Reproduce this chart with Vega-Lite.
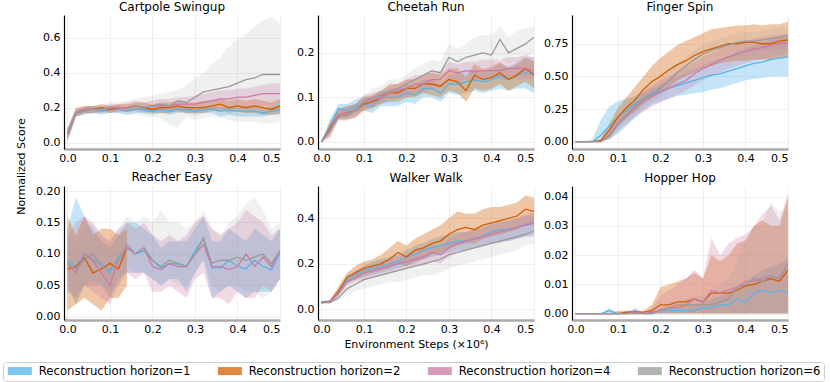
{
"$schema":"https://vega.github.io/schema/vega-lite/v6.json",
"padding":{"left":2,"top":1,"right":0,"bottom":2},
"columns":3,
"spacing":{"row":37,"column":38},
"bounds":"flush",
"resolve":{"scale":{"x":"independent","y":"independent"}},
"config":{
 "font":"DejaVu Sans",
 "view":{"stroke":null},
 "axis":{"labelFont":"DejaVu Sans","labelFontSize":11,"labelColor":"#000","labelOverlap":false,"ticks":false,"grid":true,"gridColor":"#eeeeee","gridWidth":1,"titleFont":"DejaVu Sans","titleFontSize":11,"titleFontWeight":"normal","titleColor":"#000","tickCount":10},
 "axisX":{"domainColor":"#aaaaaa","domainWidth":2.5,"labelPadding":3},
 "axisY":{"domainColor":"#000000","domainWidth":1.2,"labelPadding":4},
 "title":{"font":"DejaVu Sans","fontSize":12,"fontWeight":"normal","color":"#000","offset":1},
 "legend":{"orient":"none","legendX":-61,"legendY":347,"direction":"horizontal","columns":4,"columnPadding":25,"padding":3,"strokeColor":"#cccccc","cornerRadius":3,"symbolType":"M-2.4,-0.8H2.4V0.8H-2.4Z","symbolSize":100,"symbolOffset":8,"symbolStrokeWidth":0,"labelFont":"DejaVu Sans","labelFontSize":11.7,"labelColor":"#000","labelOffset":13}
},
"datasets":{
"cp":[
{"h":1,"x":0,"m":0.05,"l":0.01,"u":0.08},{"h":1,"x":0.02,"m":0.17,"l":0.15,"u":0.19},{"h":1,"x":0.04,"m":0.18,"l":0.16,"u":0.2},{"h":1,"x":0.06,"m":0.19,"l":0.17,"u":0.21},{"h":1,"x":0.08,"m":0.18,"l":0.16,"u":0.2},{"h":1,"x":0.1,"m":0.19,"l":0.17,"u":0.21},{"h":1,"x":0.12,"m":0.19,"l":0.17,"u":0.21},{"h":1,"x":0.14,"m":0.18,"l":0.16,"u":0.2},{"h":1,"x":0.16,"m":0.19,"l":0.17,"u":0.21},{"h":1,"x":0.18,"m":0.19,"l":0.17,"u":0.21},{"h":1,"x":0.2,"m":0.18,"l":0.16,"u":0.2},{"h":1,"x":0.22,"m":0.19,"l":0.17,"u":0.21},{"h":1,"x":0.24,"m":0.18,"l":0.16,"u":0.2},{"h":1,"x":0.26,"m":0.19,"l":0.17,"u":0.21},{"h":1,"x":0.28,"m":0.19,"l":0.17,"u":0.21},{"h":1,"x":0.3,"m":0.18,"l":0.16,"u":0.2},{"h":1,"x":0.32,"m":0.19,"l":0.17,"u":0.21},{"h":1,"x":0.34,"m":0.19,"l":0.17,"u":0.21},{"h":1,"x":0.36,"m":0.18,"l":0.15,"u":0.2},{"h":1,"x":0.38,"m":0.19,"l":0.16,"u":0.21},{"h":1,"x":0.4,"m":0.18,"l":0.15,"u":0.2},{"h":1,"x":0.42,"m":0.18,"l":0.15,"u":0.21},{"h":1,"x":0.44,"m":0.18,"l":0.15,"u":0.21},{"h":1,"x":0.46,"m":0.17,"l":0.15,"u":0.2},{"h":1,"x":0.48,"m":0.18,"l":0.16,"u":0.21},{"h":1,"x":0.5,"m":0.19,"l":0.16,"u":0.22},
{"h":2,"x":0,"m":0.05,"l":0.01,"u":0.08},{"h":2,"x":0.02,"m":0.17,"l":0.15,"u":0.2},{"h":2,"x":0.04,"m":0.19,"l":0.17,"u":0.21},{"h":2,"x":0.06,"m":0.19,"l":0.17,"u":0.21},{"h":2,"x":0.08,"m":0.2,"l":0.18,"u":0.22},{"h":2,"x":0.1,"m":0.19,"l":0.17,"u":0.21},{"h":2,"x":0.12,"m":0.2,"l":0.18,"u":0.22},{"h":2,"x":0.14,"m":0.2,"l":0.18,"u":0.22},{"h":2,"x":0.16,"m":0.21,"l":0.19,"u":0.23},{"h":2,"x":0.18,"m":0.2,"l":0.18,"u":0.23},{"h":2,"x":0.2,"m":0.19,"l":0.17,"u":0.22},{"h":2,"x":0.22,"m":0.2,"l":0.17,"u":0.23},{"h":2,"x":0.24,"m":0.2,"l":0.17,"u":0.23},{"h":2,"x":0.26,"m":0.21,"l":0.18,"u":0.24},{"h":2,"x":0.28,"m":0.2,"l":0.17,"u":0.23},{"h":2,"x":0.3,"m":0.2,"l":0.17,"u":0.23},{"h":2,"x":0.32,"m":0.2,"l":0.17,"u":0.24},{"h":2,"x":0.34,"m":0.21,"l":0.18,"u":0.24},{"h":2,"x":0.36,"m":0.22,"l":0.19,"u":0.25},{"h":2,"x":0.38,"m":0.2,"l":0.17,"u":0.24},{"h":2,"x":0.4,"m":0.21,"l":0.18,"u":0.25},{"h":2,"x":0.42,"m":0.2,"l":0.17,"u":0.24},{"h":2,"x":0.44,"m":0.21,"l":0.17,"u":0.25},{"h":2,"x":0.46,"m":0.2,"l":0.16,"u":0.24},{"h":2,"x":0.48,"m":0.19,"l":0.16,"u":0.23},{"h":2,"x":0.5,"m":0.21,"l":0.17,"u":0.25},
{"h":4,"x":0,"m":0.05,"l":0.01,"u":0.08},{"h":4,"x":0.02,"m":0.17,"l":0.15,"u":0.19},{"h":4,"x":0.04,"m":0.19,"l":0.17,"u":0.21},{"h":4,"x":0.06,"m":0.19,"l":0.17,"u":0.21},{"h":4,"x":0.08,"m":0.19,"l":0.17,"u":0.21},{"h":4,"x":0.1,"m":0.2,"l":0.18,"u":0.22},{"h":4,"x":0.12,"m":0.2,"l":0.18,"u":0.22},{"h":4,"x":0.14,"m":0.2,"l":0.18,"u":0.23},{"h":4,"x":0.16,"m":0.21,"l":0.18,"u":0.24},{"h":4,"x":0.18,"m":0.2,"l":0.17,"u":0.23},{"h":4,"x":0.2,"m":0.21,"l":0.18,"u":0.24},{"h":4,"x":0.22,"m":0.21,"l":0.18,"u":0.25},{"h":4,"x":0.24,"m":0.21,"l":0.18,"u":0.25},{"h":4,"x":0.26,"m":0.22,"l":0.18,"u":0.26},{"h":4,"x":0.28,"m":0.22,"l":0.18,"u":0.26},{"h":4,"x":0.3,"m":0.22,"l":0.19,"u":0.27},{"h":4,"x":0.32,"m":0.23,"l":0.19,"u":0.28},{"h":4,"x":0.34,"m":0.24,"l":0.19,"u":0.29},{"h":4,"x":0.36,"m":0.25,"l":0.19,"u":0.3},{"h":4,"x":0.38,"m":0.25,"l":0.2,"u":0.3},{"h":4,"x":0.4,"m":0.26,"l":0.2,"u":0.31},{"h":4,"x":0.42,"m":0.26,"l":0.2,"u":0.31},{"h":4,"x":0.44,"m":0.27,"l":0.2,"u":0.32},{"h":4,"x":0.46,"m":0.28,"l":0.21,"u":0.33},{"h":4,"x":0.48,"m":0.28,"l":0.21,"u":0.34},{"h":4,"x":0.5,"m":0.28,"l":0.22,"u":0.34},
{"h":6,"x":0,"m":0.05,"l":0.01,"u":0.08},{"h":6,"x":0.02,"m":0.17,"l":0.15,"u":0.19},{"h":6,"x":0.04,"m":0.18,"l":0.16,"u":0.2},{"h":6,"x":0.06,"m":0.19,"l":0.17,"u":0.21},{"h":6,"x":0.08,"m":0.19,"l":0.17,"u":0.22},{"h":6,"x":0.1,"m":0.2,"l":0.17,"u":0.23},{"h":6,"x":0.12,"m":0.2,"l":0.17,"u":0.23},{"h":6,"x":0.14,"m":0.2,"l":0.16,"u":0.24},{"h":6,"x":0.16,"m":0.21,"l":0.16,"u":0.25},{"h":6,"x":0.18,"m":0.2,"l":0.15,"u":0.26},{"h":6,"x":0.2,"m":0.21,"l":0.15,"u":0.27},{"h":6,"x":0.22,"m":0.22,"l":0.14,"u":0.28},{"h":6,"x":0.24,"m":0.21,"l":0.1,"u":0.29},{"h":6,"x":0.26,"m":0.24,"l":0.09,"u":0.3},{"h":6,"x":0.28,"m":0.23,"l":0.15,"u":0.33},{"h":6,"x":0.3,"m":0.26,"l":0.13,"u":0.37},{"h":6,"x":0.32,"m":0.29,"l":0.14,"u":0.4},{"h":6,"x":0.34,"m":0.3,"l":0.15,"u":0.45},{"h":6,"x":0.36,"m":0.31,"l":0.14,"u":0.49},{"h":6,"x":0.38,"m":0.32,"l":0.13,"u":0.55},{"h":6,"x":0.4,"m":0.34,"l":0.12,"u":0.59},{"h":6,"x":0.42,"m":0.36,"l":0.12,"u":0.62},{"h":6,"x":0.44,"m":0.37,"l":0.12,"u":0.66},{"h":6,"x":0.46,"m":0.39,"l":0.11,"u":0.7},{"h":6,"x":0.48,"m":0.39,"l":0.11,"u":0.72},{"h":6,"x":0.5,"m":0.39,"l":0.12,"u":0.68}
],
"ch":[
{"h":1,"x":0,"m":0,"l":0,"u":0},{"h":1,"x":0.02,"m":0.035,"l":0.02,"u":0.05},{"h":1,"x":0.04,"m":0.075,"l":0.06,"u":0.085},{"h":1,"x":0.06,"m":0.07,"l":0.055,"u":0.085},{"h":1,"x":0.08,"m":0.08,"l":0.065,"u":0.095},{"h":1,"x":0.1,"m":0.085,"l":0.07,"u":0.1},{"h":1,"x":0.12,"m":0.08,"l":0.065,"u":0.1},{"h":1,"x":0.14,"m":0.1,"l":0.08,"u":0.115},{"h":1,"x":0.16,"m":0.1,"l":0.08,"u":0.115},{"h":1,"x":0.18,"m":0.1,"l":0.08,"u":0.12},{"h":1,"x":0.2,"m":0.11,"l":0.09,"u":0.13},{"h":1,"x":0.22,"m":0.105,"l":0.085,"u":0.125},{"h":1,"x":0.24,"m":0.12,"l":0.1,"u":0.14},{"h":1,"x":0.26,"m":0.12,"l":0.1,"u":0.14},{"h":1,"x":0.28,"m":0.11,"l":0.09,"u":0.13},{"h":1,"x":0.3,"m":0.13,"l":0.11,"u":0.15},{"h":1,"x":0.32,"m":0.13,"l":0.105,"u":0.155},{"h":1,"x":0.34,"m":0.135,"l":0.11,"u":0.16},{"h":1,"x":0.36,"m":0.14,"l":0.115,"u":0.165},{"h":1,"x":0.38,"m":0.135,"l":0.11,"u":0.16},{"h":1,"x":0.4,"m":0.14,"l":0.115,"u":0.165},{"h":1,"x":0.42,"m":0.15,"l":0.12,"u":0.175},{"h":1,"x":0.44,"m":0.14,"l":0.115,"u":0.17},{"h":1,"x":0.46,"m":0.15,"l":0.12,"u":0.18},{"h":1,"x":0.48,"m":0.155,"l":0.12,"u":0.19},{"h":1,"x":0.5,"m":0.155,"l":0.11,"u":0.19},
{"h":2,"x":0,"m":0,"l":0,"u":0},{"h":2,"x":0.02,"m":0.03,"l":0.015,"u":0.045},{"h":2,"x":0.04,"m":0.06,"l":0.05,"u":0.075},{"h":2,"x":0.06,"m":0.065,"l":0.05,"u":0.08},{"h":2,"x":0.08,"m":0.07,"l":0.055,"u":0.085},{"h":2,"x":0.1,"m":0.085,"l":0.07,"u":0.1},{"h":2,"x":0.12,"m":0.09,"l":0.075,"u":0.105},{"h":2,"x":0.14,"m":0.1,"l":0.085,"u":0.115},{"h":2,"x":0.16,"m":0.11,"l":0.09,"u":0.13},{"h":2,"x":0.18,"m":0.11,"l":0.09,"u":0.13},{"h":2,"x":0.2,"m":0.12,"l":0.1,"u":0.14},{"h":2,"x":0.22,"m":0.12,"l":0.1,"u":0.14},{"h":2,"x":0.24,"m":0.13,"l":0.11,"u":0.15},{"h":2,"x":0.26,"m":0.13,"l":0.105,"u":0.155},{"h":2,"x":0.28,"m":0.125,"l":0.1,"u":0.15},{"h":2,"x":0.3,"m":0.14,"l":0.115,"u":0.165},{"h":2,"x":0.32,"m":0.135,"l":0.11,"u":0.165},{"h":2,"x":0.34,"m":0.115,"l":0.09,"u":0.145},{"h":2,"x":0.36,"m":0.15,"l":0.12,"u":0.175},{"h":2,"x":0.38,"m":0.14,"l":0.115,"u":0.165},{"h":2,"x":0.4,"m":0.145,"l":0.12,"u":0.17},{"h":2,"x":0.42,"m":0.155,"l":0.13,"u":0.18},{"h":2,"x":0.44,"m":0.14,"l":0.115,"u":0.165},{"h":2,"x":0.46,"m":0.15,"l":0.125,"u":0.175},{"h":2,"x":0.48,"m":0.165,"l":0.135,"u":0.19},{"h":2,"x":0.5,"m":0.15,"l":0.12,"u":0.18},
{"h":4,"x":0,"m":0,"l":0,"u":0},{"h":4,"x":0.02,"m":0.025,"l":0.01,"u":0.04},{"h":4,"x":0.04,"m":0.06,"l":0.05,"u":0.07},{"h":4,"x":0.06,"m":0.065,"l":0.05,"u":0.08},{"h":4,"x":0.08,"m":0.07,"l":0.055,"u":0.085},{"h":4,"x":0.1,"m":0.09,"l":0.075,"u":0.105},{"h":4,"x":0.12,"m":0.095,"l":0.08,"u":0.11},{"h":4,"x":0.14,"m":0.1,"l":0.085,"u":0.115},{"h":4,"x":0.16,"m":0.11,"l":0.095,"u":0.125},{"h":4,"x":0.18,"m":0.115,"l":0.1,"u":0.13},{"h":4,"x":0.2,"m":0.12,"l":0.1,"u":0.14},{"h":4,"x":0.22,"m":0.13,"l":0.11,"u":0.15},{"h":4,"x":0.24,"m":0.13,"l":0.11,"u":0.15},{"h":4,"x":0.26,"m":0.14,"l":0.12,"u":0.16},{"h":4,"x":0.28,"m":0.14,"l":0.12,"u":0.16},{"h":4,"x":0.3,"m":0.16,"l":0.14,"u":0.18},{"h":4,"x":0.32,"m":0.155,"l":0.135,"u":0.175},{"h":4,"x":0.34,"m":0.16,"l":0.14,"u":0.18},{"h":4,"x":0.36,"m":0.157,"l":0.135,"u":0.18},{"h":4,"x":0.38,"m":0.16,"l":0.14,"u":0.185},{"h":4,"x":0.4,"m":0.16,"l":0.14,"u":0.185},{"h":4,"x":0.42,"m":0.16,"l":0.14,"u":0.185},{"h":4,"x":0.44,"m":0.165,"l":0.14,"u":0.19},{"h":4,"x":0.46,"m":0.165,"l":0.14,"u":0.19},{"h":4,"x":0.48,"m":0.165,"l":0.14,"u":0.195},{"h":4,"x":0.5,"m":0.16,"l":0.14,"u":0.19},
{"h":6,"x":0,"m":0,"l":0,"u":0},{"h":6,"x":0.02,"m":0.025,"l":0.01,"u":0.04},{"h":6,"x":0.04,"m":0.055,"l":0.045,"u":0.07},{"h":6,"x":0.06,"m":0.06,"l":0.045,"u":0.075},{"h":6,"x":0.08,"m":0.07,"l":0.055,"u":0.085},{"h":6,"x":0.1,"m":0.09,"l":0.075,"u":0.105},{"h":6,"x":0.12,"m":0.1,"l":0.085,"u":0.12},{"h":6,"x":0.14,"m":0.105,"l":0.09,"u":0.125},{"h":6,"x":0.16,"m":0.115,"l":0.1,"u":0.14},{"h":6,"x":0.18,"m":0.12,"l":0.105,"u":0.14},{"h":6,"x":0.2,"m":0.13,"l":0.115,"u":0.15},{"h":6,"x":0.22,"m":0.14,"l":0.12,"u":0.165},{"h":6,"x":0.24,"m":0.15,"l":0.13,"u":0.175},{"h":6,"x":0.26,"m":0.16,"l":0.14,"u":0.185},{"h":6,"x":0.28,"m":0.155,"l":0.135,"u":0.18},{"h":6,"x":0.3,"m":0.19,"l":0.16,"u":0.22},{"h":6,"x":0.32,"m":0.18,"l":0.155,"u":0.21},{"h":6,"x":0.34,"m":0.19,"l":0.16,"u":0.22},{"h":6,"x":0.36,"m":0.195,"l":0.165,"u":0.235},{"h":6,"x":0.38,"m":0.2,"l":0.17,"u":0.24},{"h":6,"x":0.4,"m":0.195,"l":0.17,"u":0.24},{"h":6,"x":0.42,"m":0.23,"l":0.19,"u":0.26},{"h":6,"x":0.44,"m":0.2,"l":0.175,"u":0.235},{"h":6,"x":0.46,"m":0.21,"l":0.18,"u":0.25},{"h":6,"x":0.48,"m":0.22,"l":0.19,"u":0.255},{"h":6,"x":0.5,"m":0.235,"l":0.2,"u":0.26}
],
"fs":[
{"h":1,"x":0,"m":0,"l":0,"u":0},{"h":1,"x":0.02,"m":0,"l":0,"u":0},{"h":1,"x":0.04,"m":0,"l":0,"u":0.02},{"h":1,"x":0.06,"m":0.05,"l":0,"u":0.17},{"h":1,"x":0.08,"m":0.12,"l":0.02,"u":0.27},{"h":1,"x":0.1,"m":0.19,"l":0.06,"u":0.31},{"h":1,"x":0.12,"m":0.24,"l":0.12,"u":0.33},{"h":1,"x":0.14,"m":0.29,"l":0.18,"u":0.35},{"h":1,"x":0.16,"m":0.33,"l":0.24,"u":0.38},{"h":1,"x":0.18,"m":0.36,"l":0.28,"u":0.41},{"h":1,"x":0.2,"m":0.39,"l":0.31,"u":0.44},{"h":1,"x":0.22,"m":0.41,"l":0.33,"u":0.47},{"h":1,"x":0.24,"m":0.43,"l":0.35,"u":0.5},{"h":1,"x":0.26,"m":0.45,"l":0.36,"u":0.53},{"h":1,"x":0.28,"m":0.47,"l":0.37,"u":0.56},{"h":1,"x":0.3,"m":0.49,"l":0.38,"u":0.59},{"h":1,"x":0.32,"m":0.51,"l":0.4,"u":0.62},{"h":1,"x":0.34,"m":0.52,"l":0.41,"u":0.64},{"h":1,"x":0.36,"m":0.54,"l":0.43,"u":0.66},{"h":1,"x":0.38,"m":0.56,"l":0.45,"u":0.69},{"h":1,"x":0.4,"m":0.58,"l":0.47,"u":0.71},{"h":1,"x":0.42,"m":0.6,"l":0.48,"u":0.74},{"h":1,"x":0.44,"m":0.61,"l":0.49,"u":0.76},{"h":1,"x":0.46,"m":0.63,"l":0.5,"u":0.78},{"h":1,"x":0.48,"m":0.64,"l":0.5,"u":0.8},{"h":1,"x":0.5,"m":0.65,"l":0.5,"u":0.8},
{"h":2,"x":0,"m":0,"l":0,"u":0},{"h":2,"x":0.02,"m":0,"l":0,"u":0},{"h":2,"x":0.04,"m":0,"l":0,"u":0},{"h":2,"x":0.06,"m":0.01,"l":0,"u":0.02},{"h":2,"x":0.08,"m":0.09,"l":0.04,"u":0.14},{"h":2,"x":0.1,"m":0.19,"l":0.12,"u":0.26},{"h":2,"x":0.12,"m":0.26,"l":0.18,"u":0.34},{"h":2,"x":0.14,"m":0.32,"l":0.23,"u":0.42},{"h":2,"x":0.16,"m":0.4,"l":0.29,"u":0.5},{"h":2,"x":0.18,"m":0.46,"l":0.33,"u":0.58},{"h":2,"x":0.2,"m":0.5,"l":0.37,"u":0.64},{"h":2,"x":0.22,"m":0.55,"l":0.42,"u":0.69},{"h":2,"x":0.24,"m":0.59,"l":0.47,"u":0.74},{"h":2,"x":0.26,"m":0.62,"l":0.5,"u":0.77},{"h":2,"x":0.28,"m":0.66,"l":0.53,"u":0.8},{"h":2,"x":0.3,"m":0.69,"l":0.56,"u":0.83},{"h":2,"x":0.32,"m":0.71,"l":0.58,"u":0.86},{"h":2,"x":0.34,"m":0.73,"l":0.6,"u":0.87},{"h":2,"x":0.36,"m":0.75,"l":0.61,"u":0.88},{"h":2,"x":0.38,"m":0.75,"l":0.62,"u":0.89},{"h":2,"x":0.4,"m":0.76,"l":0.62,"u":0.89},{"h":2,"x":0.42,"m":0.76,"l":0.63,"u":0.9},{"h":2,"x":0.44,"m":0.75,"l":0.63,"u":0.89},{"h":2,"x":0.46,"m":0.75,"l":0.63,"u":0.9},{"h":2,"x":0.48,"m":0.77,"l":0.64,"u":0.9},{"h":2,"x":0.5,"m":0.78,"l":0.65,"u":0.92},
{"h":4,"x":0,"m":0,"l":0,"u":0},{"h":4,"x":0.02,"m":0,"l":0,"u":0},{"h":4,"x":0.04,"m":0,"l":0,"u":0},{"h":4,"x":0.06,"m":0,"l":0,"u":0.01},{"h":4,"x":0.08,"m":0.05,"l":0.02,"u":0.09},{"h":4,"x":0.1,"m":0.14,"l":0.09,"u":0.19},{"h":4,"x":0.12,"m":0.2,"l":0.14,"u":0.26},{"h":4,"x":0.14,"m":0.26,"l":0.19,"u":0.32},{"h":4,"x":0.16,"m":0.31,"l":0.23,"u":0.38},{"h":4,"x":0.18,"m":0.35,"l":0.27,"u":0.43},{"h":4,"x":0.2,"m":0.38,"l":0.3,"u":0.47},{"h":4,"x":0.22,"m":0.41,"l":0.33,"u":0.5},{"h":4,"x":0.24,"m":0.44,"l":0.36,"u":0.54},{"h":4,"x":0.26,"m":0.47,"l":0.39,"u":0.57},{"h":4,"x":0.28,"m":0.52,"l":0.43,"u":0.61},{"h":4,"x":0.3,"m":0.56,"l":0.47,"u":0.65},{"h":4,"x":0.32,"m":0.59,"l":0.5,"u":0.68},{"h":4,"x":0.34,"m":0.62,"l":0.53,"u":0.71},{"h":4,"x":0.36,"m":0.65,"l":0.56,"u":0.73},{"h":4,"x":0.38,"m":0.67,"l":0.58,"u":0.75},{"h":4,"x":0.4,"m":0.69,"l":0.6,"u":0.77},{"h":4,"x":0.42,"m":0.71,"l":0.62,"u":0.79},{"h":4,"x":0.44,"m":0.72,"l":0.63,"u":0.8},{"h":4,"x":0.46,"m":0.74,"l":0.65,"u":0.81},{"h":4,"x":0.48,"m":0.75,"l":0.66,"u":0.82},{"h":4,"x":0.5,"m":0.76,"l":0.67,"u":0.83},
{"h":6,"x":0,"m":0,"l":0,"u":0},{"h":6,"x":0.02,"m":0,"l":0,"u":0},{"h":6,"x":0.04,"m":0,"l":0,"u":0},{"h":6,"x":0.06,"m":0,"l":0,"u":0.01},{"h":6,"x":0.08,"m":0.04,"l":0.01,"u":0.07},{"h":6,"x":0.1,"m":0.13,"l":0.07,"u":0.18},{"h":6,"x":0.12,"m":0.2,"l":0.13,"u":0.27},{"h":6,"x":0.14,"m":0.27,"l":0.2,"u":0.34},{"h":6,"x":0.16,"m":0.33,"l":0.26,"u":0.4},{"h":6,"x":0.18,"m":0.37,"l":0.3,"u":0.44},{"h":6,"x":0.2,"m":0.41,"l":0.34,"u":0.48},{"h":6,"x":0.22,"m":0.47,"l":0.4,"u":0.54},{"h":6,"x":0.24,"m":0.53,"l":0.46,"u":0.6},{"h":6,"x":0.26,"m":0.58,"l":0.51,"u":0.65},{"h":6,"x":0.28,"m":0.63,"l":0.56,"u":0.7},{"h":6,"x":0.3,"m":0.67,"l":0.6,"u":0.74},{"h":6,"x":0.32,"m":0.7,"l":0.63,"u":0.77},{"h":6,"x":0.34,"m":0.72,"l":0.65,"u":0.79},{"h":6,"x":0.36,"m":0.74,"l":0.67,"u":0.81},{"h":6,"x":0.38,"m":0.76,"l":0.68,"u":0.83},{"h":6,"x":0.4,"m":0.77,"l":0.69,"u":0.84},{"h":6,"x":0.42,"m":0.77,"l":0.69,"u":0.84},{"h":6,"x":0.44,"m":0.78,"l":0.7,"u":0.85},{"h":6,"x":0.46,"m":0.79,"l":0.7,"u":0.86},{"h":6,"x":0.48,"m":0.8,"l":0.71,"u":0.87},{"h":6,"x":0.5,"m":0.81,"l":0.72,"u":0.88}
],
"re":[
{"h":1,"x":0,"m":0.09,"l":0.05,"u":0.14},{"h":1,"x":0.02,"m":0.08,"l":0.02,"u":0.19},{"h":1,"x":0.04,"m":0.1,"l":0.05,"u":0.16},{"h":1,"x":0.06,"m":0.09,"l":0.05,"u":0.14},{"h":1,"x":0.08,"m":0.085,"l":0.05,"u":0.12},{"h":1,"x":0.1,"m":0.07,"l":0.03,"u":0.11},{"h":1,"x":0.12,"m":0.095,"l":0.06,"u":0.13},{"h":1,"x":0.14,"m":0.11,"l":0.07,"u":0.15},{"h":1,"x":0.16,"m":0.1,"l":0.07,"u":0.15},{"h":1,"x":0.18,"m":0.105,"l":0.07,"u":0.14},{"h":1,"x":0.2,"m":0.09,"l":0.06,"u":0.13},{"h":1,"x":0.22,"m":0.078,"l":0.05,"u":0.11},{"h":1,"x":0.24,"m":0.085,"l":0.06,"u":0.12},{"h":1,"x":0.26,"m":0.084,"l":0.06,"u":0.12},{"h":1,"x":0.28,"m":0.08,"l":0.04,"u":0.12},{"h":1,"x":0.3,"m":0.105,"l":0.07,"u":0.14},{"h":1,"x":0.32,"m":0.125,"l":0.09,"u":0.16},{"h":1,"x":0.34,"m":0.078,"l":0.03,"u":0.12},{"h":1,"x":0.36,"m":0.078,"l":0.04,"u":0.12},{"h":1,"x":0.38,"m":0.09,"l":0.05,"u":0.14},{"h":1,"x":0.4,"m":0.08,"l":0.04,"u":0.13},{"h":1,"x":0.42,"m":0.076,"l":0.03,"u":0.12},{"h":1,"x":0.44,"m":0.09,"l":0.04,"u":0.14},{"h":1,"x":0.46,"m":0.08,"l":0.04,"u":0.13},{"h":1,"x":0.48,"m":0.075,"l":0.04,"u":0.12},{"h":1,"x":0.5,"m":0.1,"l":0.06,"u":0.14},
{"h":2,"x":0,"m":0.076,"l":0.01,"u":0.16},{"h":2,"x":0.02,"m":0.08,"l":0.02,"u":0.13},{"h":2,"x":0.04,"m":0.094,"l":0.03,"u":0.16},{"h":2,"x":0.06,"m":0.07,"l":0.02,"u":0.13},{"h":2,"x":0.08,"m":0.076,"l":0.01,"u":0.14},{"h":2,"x":0.1,"m":0.085,"l":0.03,"u":0.14},{"h":2,"x":0.12,"m":0.076,"l":0.03,"u":0.13},{"h":2,"x":0.14,"m":0.11,"l":0.05,"u":0.14},
{"h":4,"x":0,"m":0.085,"l":0.04,"u":0.13},{"h":4,"x":0.02,"m":0.07,"l":0.03,"u":0.15},{"h":4,"x":0.04,"m":0.1,"l":0.05,"u":0.16},{"h":4,"x":0.06,"m":0.09,"l":0.04,"u":0.15},{"h":4,"x":0.08,"m":0.07,"l":0.03,"u":0.13},{"h":4,"x":0.1,"m":0.05,"l":0.02,"u":0.12},{"h":4,"x":0.12,"m":0.09,"l":0.05,"u":0.14},{"h":4,"x":0.14,"m":0.11,"l":0.07,"u":0.15},{"h":4,"x":0.16,"m":0.1,"l":0.06,"u":0.14},{"h":4,"x":0.18,"m":0.11,"l":0.07,"u":0.15},{"h":4,"x":0.2,"m":0.08,"l":0.04,"u":0.13},{"h":4,"x":0.22,"m":0.075,"l":0.04,"u":0.12},{"h":4,"x":0.24,"m":0.085,"l":0.05,"u":0.13},{"h":4,"x":0.26,"m":0.08,"l":0.04,"u":0.12},{"h":4,"x":0.28,"m":0.08,"l":0.03,"u":0.13},{"h":4,"x":0.3,"m":0.1,"l":0.06,"u":0.15},{"h":4,"x":0.32,"m":0.115,"l":0.07,"u":0.16},{"h":4,"x":0.34,"m":0.08,"l":0.03,"u":0.14},{"h":4,"x":0.36,"m":0.08,"l":0.03,"u":0.13},{"h":4,"x":0.38,"m":0.075,"l":0.02,"u":0.14},{"h":4,"x":0.4,"m":0.08,"l":0.04,"u":0.15},{"h":4,"x":0.42,"m":0.1,"l":0.03,"u":0.17},{"h":4,"x":0.44,"m":0.08,"l":0.03,"u":0.16},{"h":4,"x":0.46,"m":0.095,"l":0.05,"u":0.15},{"h":4,"x":0.48,"m":0.08,"l":0.04,"u":0.13},{"h":4,"x":0.5,"m":0.105,"l":0.06,"u":0.14},
{"h":6,"x":0,"m":0.085,"l":0.04,"u":0.13},{"h":6,"x":0.02,"m":0.075,"l":0.03,"u":0.12},{"h":6,"x":0.04,"m":0.09,"l":0.05,"u":0.14},{"h":6,"x":0.06,"m":0.1,"l":0.06,"u":0.15},{"h":6,"x":0.08,"m":0.08,"l":0.05,"u":0.13},{"h":6,"x":0.1,"m":0.075,"l":0.04,"u":0.12},{"h":6,"x":0.12,"m":0.09,"l":0.05,"u":0.14},{"h":6,"x":0.14,"m":0.115,"l":0.08,"u":0.16},{"h":6,"x":0.16,"m":0.1,"l":0.07,"u":0.15},{"h":6,"x":0.18,"m":0.11,"l":0.07,"u":0.16},{"h":6,"x":0.2,"m":0.09,"l":0.06,"u":0.15},{"h":6,"x":0.22,"m":0.08,"l":0.05,"u":0.17},{"h":6,"x":0.24,"m":0.09,"l":0.06,"u":0.15},{"h":6,"x":0.26,"m":0.085,"l":0.05,"u":0.15},{"h":6,"x":0.28,"m":0.08,"l":0.05,"u":0.14},{"h":6,"x":0.3,"m":0.1,"l":0.07,"u":0.15},{"h":6,"x":0.32,"m":0.125,"l":0.09,"u":0.17},{"h":6,"x":0.34,"m":0.085,"l":0.05,"u":0.14},{"h":6,"x":0.36,"m":0.09,"l":0.04,"u":0.13},{"h":6,"x":0.38,"m":0.09,"l":0.05,"u":0.15},{"h":6,"x":0.4,"m":0.095,"l":0.05,"u":0.16},{"h":6,"x":0.42,"m":0.09,"l":0.04,"u":0.18},{"h":6,"x":0.44,"m":0.095,"l":0.04,"u":0.19},{"h":6,"x":0.46,"m":0.1,"l":0.03,"u":0.17},{"h":6,"x":0.48,"m":0.085,"l":0.04,"u":0.14},{"h":6,"x":0.5,"m":0.105,"l":0.06,"u":0.15}
],
"ww":[
{"h":1,"x":0,"m":0.03,"l":0.025,"u":0.035},{"h":1,"x":0.02,"m":0.035,"l":0.03,"u":0.04},{"h":1,"x":0.04,"m":0.07,"l":0.06,"u":0.08},{"h":1,"x":0.06,"m":0.13,"l":0.11,"u":0.15},{"h":1,"x":0.08,"m":0.15,"l":0.13,"u":0.17},{"h":1,"x":0.1,"m":0.17,"l":0.14,"u":0.19},{"h":1,"x":0.12,"m":0.18,"l":0.15,"u":0.21},{"h":1,"x":0.14,"m":0.19,"l":0.16,"u":0.22},{"h":1,"x":0.16,"m":0.2,"l":0.17,"u":0.23},{"h":1,"x":0.18,"m":0.21,"l":0.18,"u":0.24},{"h":1,"x":0.2,"m":0.23,"l":0.19,"u":0.26},{"h":1,"x":0.22,"m":0.24,"l":0.2,"u":0.28},{"h":1,"x":0.24,"m":0.26,"l":0.22,"u":0.29},{"h":1,"x":0.26,"m":0.27,"l":0.23,"u":0.31},{"h":1,"x":0.28,"m":0.28,"l":0.24,"u":0.32},{"h":1,"x":0.3,"m":0.29,"l":0.25,"u":0.33},{"h":1,"x":0.32,"m":0.3,"l":0.26,"u":0.34},{"h":1,"x":0.34,"m":0.3,"l":0.26,"u":0.34},{"h":1,"x":0.36,"m":0.31,"l":0.27,"u":0.35},{"h":1,"x":0.38,"m":0.32,"l":0.28,"u":0.36},{"h":1,"x":0.4,"m":0.34,"l":0.29,"u":0.38},{"h":1,"x":0.42,"m":0.35,"l":0.3,"u":0.39},{"h":1,"x":0.44,"m":0.35,"l":0.3,"u":0.39},{"h":1,"x":0.46,"m":0.36,"l":0.31,"u":0.4},{"h":1,"x":0.48,"m":0.37,"l":0.32,"u":0.41},{"h":1,"x":0.5,"m":0.38,"l":0.32,"u":0.42},
{"h":2,"x":0,"m":0.03,"l":0.025,"u":0.035},{"h":2,"x":0.02,"m":0.035,"l":0.03,"u":0.04},{"h":2,"x":0.04,"m":0.08,"l":0.06,"u":0.1},{"h":2,"x":0.06,"m":0.14,"l":0.12,"u":0.16},{"h":2,"x":0.08,"m":0.16,"l":0.13,"u":0.19},{"h":2,"x":0.1,"m":0.18,"l":0.15,"u":0.21},{"h":2,"x":0.12,"m":0.19,"l":0.16,"u":0.22},{"h":2,"x":0.14,"m":0.2,"l":0.17,"u":0.24},{"h":2,"x":0.16,"m":0.22,"l":0.18,"u":0.27},{"h":2,"x":0.18,"m":0.25,"l":0.2,"u":0.3},{"h":2,"x":0.2,"m":0.23,"l":0.19,"u":0.28},{"h":2,"x":0.22,"m":0.26,"l":0.21,"u":0.31},{"h":2,"x":0.24,"m":0.27,"l":0.22,"u":0.33},{"h":2,"x":0.26,"m":0.29,"l":0.24,"u":0.35},{"h":2,"x":0.28,"m":0.3,"l":0.25,"u":0.37},{"h":2,"x":0.3,"m":0.33,"l":0.27,"u":0.4},{"h":2,"x":0.32,"m":0.35,"l":0.28,"u":0.43},{"h":2,"x":0.34,"m":0.36,"l":0.29,"u":0.42},{"h":2,"x":0.36,"m":0.35,"l":0.29,"u":0.42},{"h":2,"x":0.38,"m":0.37,"l":0.31,"u":0.44},{"h":2,"x":0.4,"m":0.38,"l":0.32,"u":0.45},{"h":2,"x":0.42,"m":0.39,"l":0.33,"u":0.45},{"h":2,"x":0.44,"m":0.4,"l":0.34,"u":0.46},{"h":2,"x":0.46,"m":0.41,"l":0.35,"u":0.47},{"h":2,"x":0.48,"m":0.44,"l":0.37,"u":0.5},{"h":2,"x":0.5,"m":0.43,"l":0.37,"u":0.49},
{"h":4,"x":0,"m":0.03,"l":0.025,"u":0.035},{"h":4,"x":0.02,"m":0.035,"l":0.03,"u":0.04},{"h":4,"x":0.04,"m":0.07,"l":0.06,"u":0.09},{"h":4,"x":0.06,"m":0.12,"l":0.1,"u":0.14},{"h":4,"x":0.08,"m":0.14,"l":0.12,"u":0.17},{"h":4,"x":0.1,"m":0.16,"l":0.13,"u":0.19},{"h":4,"x":0.12,"m":0.17,"l":0.14,"u":0.2},{"h":4,"x":0.14,"m":0.18,"l":0.15,"u":0.21},{"h":4,"x":0.16,"m":0.19,"l":0.16,"u":0.22},{"h":4,"x":0.18,"m":0.2,"l":0.17,"u":0.23},{"h":4,"x":0.2,"m":0.21,"l":0.18,"u":0.24},{"h":4,"x":0.22,"m":0.22,"l":0.19,"u":0.26},{"h":4,"x":0.24,"m":0.23,"l":0.19,"u":0.27},{"h":4,"x":0.26,"m":0.25,"l":0.21,"u":0.29},{"h":4,"x":0.28,"m":0.24,"l":0.2,"u":0.28},{"h":4,"x":0.3,"m":0.27,"l":0.23,"u":0.31},{"h":4,"x":0.32,"m":0.29,"l":0.25,"u":0.33},{"h":4,"x":0.34,"m":0.3,"l":0.26,"u":0.34},{"h":4,"x":0.36,"m":0.31,"l":0.27,"u":0.35},{"h":4,"x":0.38,"m":0.32,"l":0.28,"u":0.36},{"h":4,"x":0.4,"m":0.33,"l":0.29,"u":0.37},{"h":4,"x":0.42,"m":0.34,"l":0.29,"u":0.38},{"h":4,"x":0.44,"m":0.35,"l":0.3,"u":0.39},{"h":4,"x":0.46,"m":0.36,"l":0.31,"u":0.4},{"h":4,"x":0.48,"m":0.37,"l":0.32,"u":0.42},{"h":4,"x":0.5,"m":0.38,"l":0.33,"u":0.43},
{"h":6,"x":0,"m":0.03,"l":0.025,"u":0.035},{"h":6,"x":0.02,"m":0.03,"l":0.025,"u":0.035},{"h":6,"x":0.04,"m":0.05,"l":0.04,"u":0.07},{"h":6,"x":0.06,"m":0.09,"l":0.06,"u":0.12},{"h":6,"x":0.08,"m":0.11,"l":0.08,"u":0.14},{"h":6,"x":0.1,"m":0.13,"l":0.09,"u":0.17},{"h":6,"x":0.12,"m":0.14,"l":0.1,"u":0.18},{"h":6,"x":0.14,"m":0.15,"l":0.11,"u":0.19},{"h":6,"x":0.16,"m":0.16,"l":0.12,"u":0.2},{"h":6,"x":0.18,"m":0.17,"l":0.12,"u":0.21},{"h":6,"x":0.2,"m":0.18,"l":0.13,"u":0.22},{"h":6,"x":0.22,"m":0.19,"l":0.14,"u":0.23},{"h":6,"x":0.24,"m":0.2,"l":0.15,"u":0.24},{"h":6,"x":0.26,"m":0.21,"l":0.15,"u":0.26},{"h":6,"x":0.28,"m":0.22,"l":0.16,"u":0.27},{"h":6,"x":0.3,"m":0.24,"l":0.18,"u":0.29},{"h":6,"x":0.32,"m":0.25,"l":0.19,"u":0.3},{"h":6,"x":0.34,"m":0.26,"l":0.2,"u":0.31},{"h":6,"x":0.36,"m":0.27,"l":0.21,"u":0.32},{"h":6,"x":0.38,"m":0.28,"l":0.22,"u":0.33},{"h":6,"x":0.4,"m":0.29,"l":0.23,"u":0.34},{"h":6,"x":0.42,"m":0.3,"l":0.24,"u":0.35},{"h":6,"x":0.44,"m":0.31,"l":0.25,"u":0.36},{"h":6,"x":0.46,"m":0.32,"l":0.26,"u":0.37},{"h":6,"x":0.48,"m":0.33,"l":0.28,"u":0.38},{"h":6,"x":0.5,"m":0.345,"l":0.29,"u":0.4}
],
"hh":[
{"h":1,"x":0,"m":0,"l":0,"u":0},{"h":1,"x":0.02,"m":0,"l":0,"u":0},{"h":1,"x":0.04,"m":0,"l":0,"u":0},{"h":1,"x":0.06,"m":0,"l":0,"u":0},{"h":1,"x":0.08,"m":0.001,"l":0,"u":0.002},{"h":1,"x":0.1,"m":0,"l":0,"u":0},{"h":1,"x":0.12,"m":0,"l":0,"u":0},{"h":1,"x":0.14,"m":0.001,"l":0,"u":0.002},{"h":1,"x":0.16,"m":0,"l":0,"u":0},{"h":1,"x":0.18,"m":0,"l":0,"u":0},{"h":1,"x":0.2,"m":0.001,"l":0,"u":0.002},{"h":1,"x":0.22,"m":0.001,"l":0,"u":0.002},{"h":1,"x":0.24,"m":0.001,"l":0,"u":0.002},{"h":1,"x":0.26,"m":0.001,"l":0,"u":0.003},{"h":1,"x":0.28,"m":0.001,"l":0,"u":0.003},{"h":1,"x":0.3,"m":0.002,"l":0,"u":0.004},{"h":1,"x":0.32,"m":0.002,"l":0,"u":0.005},{"h":1,"x":0.34,"m":0.003,"l":0,"u":0.006},{"h":1,"x":0.36,"m":0.003,"l":0,"u":0.007},{"h":1,"x":0.38,"m":0.005,"l":0,"u":0.009},{"h":1,"x":0.4,"m":0.004,"l":0,"u":0.01},{"h":1,"x":0.42,"m":0.007,"l":0,"u":0.013},{"h":1,"x":0.44,"m":0.008,"l":0,"u":0.015},{"h":1,"x":0.46,"m":0.007,"l":0,"u":0.016},{"h":1,"x":0.48,"m":0.008,"l":0,"u":0.017},{"h":1,"x":0.5,"m":0.007,"l":0,"u":0.019},
{"h":2,"x":0,"m":0,"l":0,"u":0},{"h":2,"x":0.02,"m":0,"l":0,"u":0},{"h":2,"x":0.04,"m":0,"l":0,"u":0},{"h":2,"x":0.06,"m":0,"l":0,"u":0},{"h":2,"x":0.08,"m":0,"l":0,"u":0},{"h":2,"x":0.1,"m":0,"l":0,"u":0.001},{"h":2,"x":0.12,"m":0.0005,"l":0,"u":0.001},{"h":2,"x":0.14,"m":0.0005,"l":0,"u":0.001},{"h":2,"x":0.16,"m":0.0005,"l":0,"u":0.001},{"h":2,"x":0.18,"m":0.001,"l":0,"u":0.003},{"h":2,"x":0.2,"m":0.003,"l":0,"u":0.009},{"h":2,"x":0.22,"m":0.003,"l":0,"u":0.01},{"h":2,"x":0.24,"m":0.004,"l":0,"u":0.011},{"h":2,"x":0.26,"m":0.004,"l":0,"u":0.012},{"h":2,"x":0.28,"m":0.005,"l":0,"u":0.014},{"h":2,"x":0.3,"m":0.004,"l":0,"u":0.012},{"h":2,"x":0.32,"m":0.007,"l":0,"u":0.02},{"h":2,"x":0.34,"m":0.007,"l":0,"u":0.018},{"h":2,"x":0.36,"m":0.007,"l":0,"u":0.02},{"h":2,"x":0.38,"m":0.008,"l":0,"u":0.024},{"h":2,"x":0.4,"m":0.0095,"l":0,"u":0.025},{"h":2,"x":0.42,"m":0.01,"l":0,"u":0.03},{"h":2,"x":0.44,"m":0.011,"l":0,"u":0.032},{"h":2,"x":0.46,"m":0.012,"l":0,"u":0.03},{"h":2,"x":0.48,"m":0.011,"l":0,"u":0.03},{"h":2,"x":0.5,"m":0.015,"l":0,"u":0.04},
{"h":4,"x":0,"m":0,"l":0,"u":0},{"h":4,"x":0.02,"m":0,"l":0,"u":0},{"h":4,"x":0.04,"m":0,"l":0,"u":0},{"h":4,"x":0.06,"m":0,"l":0,"u":0},{"h":4,"x":0.08,"m":0,"l":0,"u":0},{"h":4,"x":0.1,"m":0,"l":0,"u":0},{"h":4,"x":0.12,"m":0,"l":0,"u":0.001},{"h":4,"x":0.14,"m":0.0005,"l":0,"u":0.001},{"h":4,"x":0.16,"m":0,"l":0,"u":0},{"h":4,"x":0.18,"m":0.0005,"l":0,"u":0.002},{"h":4,"x":0.2,"m":0.001,"l":0,"u":0.006},{"h":4,"x":0.22,"m":0.002,"l":0,"u":0.008},{"h":4,"x":0.24,"m":0.003,"l":0,"u":0.01},{"h":4,"x":0.26,"m":0.003,"l":0,"u":0.012},{"h":4,"x":0.28,"m":0.005,"l":0,"u":0.015},{"h":4,"x":0.3,"m":0.004,"l":0,"u":0.012},{"h":4,"x":0.32,"m":0.008,"l":0,"u":0.026},{"h":4,"x":0.34,"m":0.007,"l":0,"u":0.02},{"h":4,"x":0.36,"m":0.008,"l":0,"u":0.024},{"h":4,"x":0.38,"m":0.009,"l":0,"u":0.026},{"h":4,"x":0.4,"m":0.011,"l":0,"u":0.027},{"h":4,"x":0.42,"m":0.011,"l":0,"u":0.03},{"h":4,"x":0.44,"m":0.012,"l":0,"u":0.034},{"h":4,"x":0.46,"m":0.013,"l":0,"u":0.037},{"h":4,"x":0.48,"m":0.012,"l":0,"u":0.032},{"h":4,"x":0.5,"m":0.017,"l":0,"u":0.041},
{"h":6,"x":0,"m":0,"l":0,"u":0},{"h":6,"x":0.02,"m":0,"l":0,"u":0},{"h":6,"x":0.04,"m":0,"l":0,"u":0},{"h":6,"x":0.06,"m":0,"l":0,"u":0},{"h":6,"x":0.08,"m":0,"l":0,"u":0},{"h":6,"x":0.1,"m":0,"l":0,"u":0},{"h":6,"x":0.12,"m":0,"l":0,"u":0},{"h":6,"x":0.14,"m":0,"l":0,"u":0},{"h":6,"x":0.16,"m":0,"l":0,"u":0},{"h":6,"x":0.18,"m":0,"l":0,"u":0},{"h":6,"x":0.2,"m":0.001,"l":0,"u":0.002},{"h":6,"x":0.22,"m":0.002,"l":0,"u":0.004},{"h":6,"x":0.24,"m":0.002,"l":0,"u":0.004},{"h":6,"x":0.26,"m":0.003,"l":0,"u":0.005},{"h":6,"x":0.28,"m":0.003,"l":0,"u":0.006},{"h":6,"x":0.3,"m":0.003,"l":0,"u":0.006},{"h":6,"x":0.32,"m":0.003,"l":0,"u":0.007},{"h":6,"x":0.34,"m":0.004,"l":0,"u":0.01},{"h":6,"x":0.36,"m":0.005,"l":0,"u":0.012},{"h":6,"x":0.38,"m":0.009,"l":0,"u":0.018},{"h":6,"x":0.4,"m":0.01,"l":0,"u":0.025},{"h":6,"x":0.42,"m":0.012,"l":0,"u":0.03},{"h":6,"x":0.44,"m":0.011,"l":0,"u":0.03},{"h":6,"x":0.46,"m":0.013,"l":0,"u":0.038},{"h":6,"x":0.48,"m":0.012,"l":0,"u":0.035},{"h":6,"x":0.5,"m":0.017,"l":0,"u":0.036}
]
},
"concat":[
{"data":{"name":"cp"},"title":"Cartpole Swingup","width":216,"height":134,
 "encoding":{"x":{"field":"x","type":"quantitative","scale":{"domain":[-0.008,0.5],"nice":false,"zero":false},"axis":{"values":[0,0.1,0.2,0.3,0.4,0.5],"format":".1f","title":null}},
 "color":{"field":"h","type":"nominal","scale":{"domain":[1,2,4,6],"range":["#56B4E9","#D55E00","#CC79A7","#999999"]},"legend":{"title":null,"labelExpr":"'Reconstruction horizon=' + datum.label","encode":{"symbols":{"update":{"fill":{"scale":"color","field":"value"},"fillOpacity":{"value":0.75},"opacity":{"value":1},"strokeWidth":{"value":0}}}}}}},
 "layer":[
  {"mark":{"type":"area","clip":true},"encoding":{"y":{"field":"l","type":"quantitative","scale":{"domain":[-0.036,0.73],"nice":false,"zero":false},"axis":{"values":[0,0.2,0.4,0.6],"format":".1f","tickCount":10,"title":"Normalized Score","titleX":-43,"titleY":151,"titleAngle":270,"titleAlign":"center","titleBaseline":"middle"}},"y2":{"field":"u"},"fillOpacity":{"condition":[{"test":"datum.h === 6","value":0.15},{"test":"datum.h === 4","value":0.28}],"value":0.35}}},
  {"mark":{"type":"line","clip":true,"strokeWidth":1.3},"encoding":{"y":{"field":"m","type":"quantitative"}}}
 ]},
{"data":{"name":"ch"},"title":"Cheetah Run","width":216,"height":134,
 "encoding":{"x":{"field":"x","type":"quantitative","scale":{"domain":[-0.008,0.5],"nice":false,"zero":false},"axis":{"values":[0,0.1,0.2,0.3,0.4,0.5],"format":".1f","title":null}},
 "color":{"field":"h","type":"nominal","scale":{"domain":[1,2,4,6],"range":["#56B4E9","#D55E00","#CC79A7","#999999"]},"legend":{"title":null,"labelExpr":"'Reconstruction horizon=' + datum.label","encode":{"symbols":{"update":{"fill":{"scale":"color","field":"value"},"fillOpacity":{"value":0.75},"opacity":{"value":1},"strokeWidth":{"value":0}}}}}}},
 "layer":[
  {"mark":{"type":"area","clip":true},"encoding":{"y":{"field":"l","type":"quantitative","scale":{"domain":[-0.016,0.285],"nice":false,"zero":false},"axis":{"values":[0,0.1,0.2],"format":".1f","tickCount":10,"title":null}},"y2":{"field":"u"},"fillOpacity":{"condition":[{"test":"datum.h === 6","value":0.15},{"test":"datum.h === 4","value":0.28}],"value":0.35}}},
  {"mark":{"type":"line","clip":true,"strokeWidth":1.3},"encoding":{"y":{"field":"m","type":"quantitative"}}}
 ]},
{"data":{"name":"fs"},"title":"Finger Spin","width":216,"height":134,
 "encoding":{"x":{"field":"x","type":"quantitative","scale":{"domain":[-0.008,0.5],"nice":false,"zero":false},"axis":{"values":[0,0.1,0.2,0.3,0.4,0.5],"format":".1f","title":null}},
 "color":{"field":"h","type":"nominal","scale":{"domain":[1,2,4,6],"range":["#56B4E9","#D55E00","#CC79A7","#999999"]},"legend":{"title":null,"labelExpr":"'Reconstruction horizon=' + datum.label","encode":{"symbols":{"update":{"fill":{"scale":"color","field":"value"},"fillOpacity":{"value":0.75},"opacity":{"value":1},"strokeWidth":{"value":0}}}}}}},
 "layer":[
  {"mark":{"type":"area","clip":true},"encoding":{"y":{"field":"l","type":"quantitative","scale":{"domain":[-0.056,0.97],"nice":false,"zero":false},"axis":{"values":[0,0.25,0.5,0.75],"format":".2f","tickCount":10,"title":null}},"y2":{"field":"u"},"fillOpacity":{"condition":[{"test":"datum.h === 6","value":0.15},{"test":"datum.h === 4","value":0.28}],"value":0.35}}},
  {"mark":{"type":"line","clip":true,"strokeWidth":1.3},"encoding":{"y":{"field":"m","type":"quantitative"}}}
 ]},
{"data":{"name":"re"},"title":"Reacher Easy","width":216,"height":134,
 "encoding":{"x":{"field":"x","type":"quantitative","scale":{"domain":[-0.008,0.5],"nice":false,"zero":false},"axis":{"values":[0,0.1,0.2,0.3,0.4,0.5],"format":".1f","title":null}},
 "color":{"field":"h","type":"nominal","scale":{"domain":[1,2,4,6],"range":["#56B4E9","#D55E00","#CC79A7","#999999"]},"legend":{"title":null,"labelExpr":"'Reconstruction horizon=' + datum.label","encode":{"symbols":{"update":{"fill":{"scale":"color","field":"value"},"fillOpacity":{"value":0.75},"opacity":{"value":1},"strokeWidth":{"value":0}}}}}}},
 "layer":[
  {"mark":{"type":"area","clip":true},"encoding":{"y":{"field":"l","type":"quantitative","scale":{"domain":[-0.005,0.208],"nice":false,"zero":false},"axis":{"values":[0,0.05,0.1,0.15,0.2],"format":".2f","tickCount":10,"title":null}},"y2":{"field":"u"},"fillOpacity":{"condition":[{"test":"datum.h === 6","value":0.15},{"test":"datum.h === 4","value":0.28}],"value":0.35}}},
  {"mark":{"type":"line","clip":true,"strokeWidth":1.3},"encoding":{"y":{"field":"m","type":"quantitative"}}}
 ]},
{"data":{"name":"ww"},"title":"Walker Walk","width":216,"height":134,
 "encoding":{"x":{"field":"x","type":"quantitative","scale":{"domain":[-0.008,0.5],"nice":false,"zero":false},"axis":{"values":[0,0.1,0.2,0.3,0.4,0.5],"format":".1f","title":"Environment Steps (×10⁶)","titleX":98}},
 "color":{"field":"h","type":"nominal","scale":{"domain":[1,2,4,6],"range":["#56B4E9","#D55E00","#CC79A7","#999999"]},"legend":{"title":null,"labelExpr":"'Reconstruction horizon=' + datum.label","encode":{"symbols":{"update":{"fill":{"scale":"color","field":"value"},"fillOpacity":{"value":0.75},"opacity":{"value":1},"strokeWidth":{"value":0}}}}}}},
 "layer":[
  {"mark":{"type":"area","clip":true},"encoding":{"y":{"field":"l","type":"quantitative","scale":{"domain":[-0.047,0.542],"nice":false,"zero":false},"axis":{"values":[0,0.2,0.4],"format":".1f","tickCount":10,"title":null}},"y2":{"field":"u"},"fillOpacity":{"condition":[{"test":"datum.h === 6","value":0.15},{"test":"datum.h === 4","value":0.28}],"value":0.35}}},
  {"mark":{"type":"line","clip":true,"strokeWidth":1.3},"encoding":{"y":{"field":"m","type":"quantitative"}}}
 ]},
{"data":{"name":"hh"},"title":"Hopper Hop","width":216,"height":134,
 "encoding":{"x":{"field":"x","type":"quantitative","scale":{"domain":[-0.008,0.5],"nice":false,"zero":false},"axis":{"values":[0,0.1,0.2,0.3,0.4,0.5],"format":".1f","title":null}},
 "color":{"field":"h","type":"nominal","scale":{"domain":[1,2,4,6],"range":["#56B4E9","#D55E00","#CC79A7","#999999"]},"legend":{"title":null,"labelExpr":"'Reconstruction horizon=' + datum.label","encode":{"symbols":{"update":{"fill":{"scale":"color","field":"value"},"fillOpacity":{"value":0.75},"opacity":{"value":1},"strokeWidth":{"value":0}}}}}}},
 "layer":[
  {"mark":{"type":"area","clip":true},"encoding":{"y":{"field":"l","type":"quantitative","scale":{"domain":[-0.0022,0.0437],"nice":false,"zero":false},"axis":{"values":[0,0.01,0.02,0.03,0.04],"format":".2f","tickCount":10,"title":null}},"y2":{"field":"u"},"fillOpacity":{"condition":[{"test":"datum.h === 6","value":0.15},{"test":"datum.h === 4","value":0.28}],"value":0.35}}},
  {"mark":{"type":"line","clip":true,"strokeWidth":1.3},"encoding":{"y":{"field":"m","type":"quantitative"}}}
 ]}
]
}
